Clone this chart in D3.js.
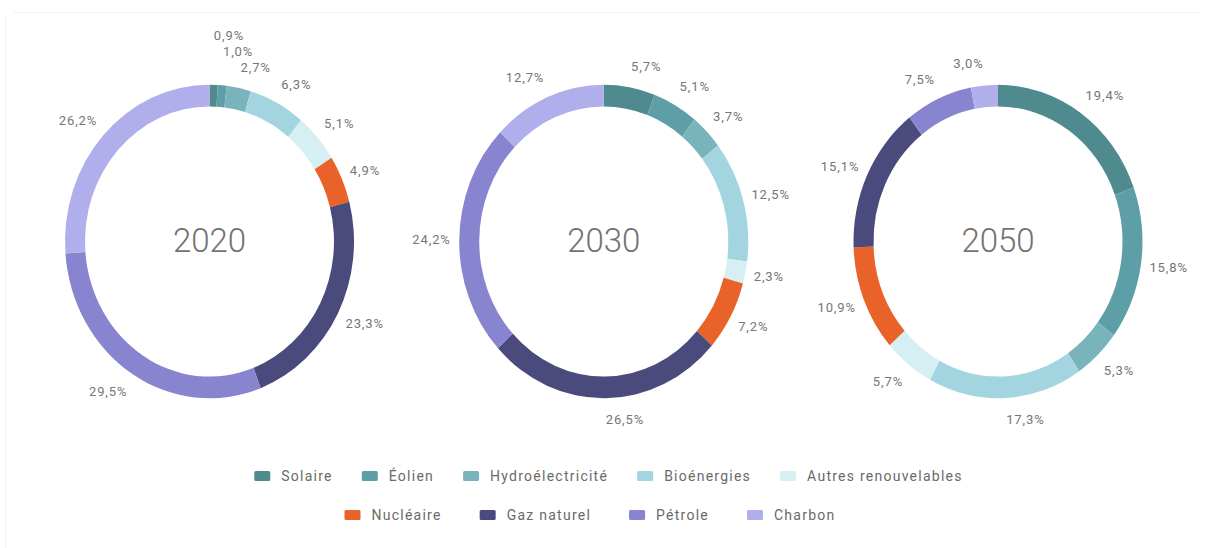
<!DOCTYPE html>
<html lang="fr">
<head>
<meta charset="utf-8">
<script src="https://cdn.jsdelivr.net/npm/d3@7"></script>
<style>
  html, body { margin: 0; padding: 0; background: #fff; }
  svg { display: block; font-family: Roboto, "Noto Sans", sans-serif; }
</style>
</head>
<body>
<svg id="chart" width="1205" height="548"></svg>
<script>
// Sources d'énergie, dans l'ordre des anneaux (sens horaire depuis midi)
const categories = ["Solaire", "Éolien", "Hydroélectricité", "Bioénergies", "Autres renouvelables",
                    "Nucléaire", "Gaz naturel", "Pétrole", "Charbon"];
const palette = ["#4f8a8e", "#5e9ea7", "#79b4bd", "#a2d5df", "#d6eff3",
                 "#e8622a", "#4b4a7c", "#8884cf", "#b1aeec"];

// Part de chaque source (%)
const years = ["2020", "2030", "2050"];
const share2020 = [0.9, 1.0, 2.7, 6.3, 5.1, 4.9, 23.3, 29.5, 26.2];
const share2030 = [5.7, 5.1, 3.7, 12.5, 2.3, 7.2, 26.5, 24.2, 12.7];
const share2050 = [19.4, 15.8, 5.3, 17.3, 5.7, 10.9, 15.1, 7.5, 3.0];
const shares = [share2020, share2030, share2050];

// Lignes de la légende (indices des catégories)
const legendRow1 = [0, 1, 2, 3, 4];
const legendRow2 = [5, 6, 7, 8];

const svg = d3.select("#chart");
const W = 1205, H = 548;

// cadre très léger
svg.append("line").attr("x1", 13).attr("x2", W - 4).attr("y1", 12.5).attr("y2", 12.5)
  .attr("stroke", "#f3f3f3").attr("stroke-width", 1);
svg.append("line").attr("x1", 5.5).attr("x2", 5.5).attr("y1", 15).attr("y2", H)
  .attr("stroke", "#f3f3f3").attr("stroke-width", 1);

const color = d3.scaleOrdinal().domain(categories).range(palette);
const cx = d3.scalePoint().domain(years).range([209.5, 998]);
const cy = 241.5;
const squash = 1.085;          // anneaux légèrement étirés verticalement
const outerR = 144.5, innerR = 124.5;
const labelRx = 153, labelRy = 178;

const fr = d3.formatLocale({ decimal: ",", thousands: " ", grouping: [3], currency: ["", " €"] });
const pct = v => fr.format(".1f")(v) + "%";

const pie = d3.pie().sort(null).value(d => d.value);
const arc = d3.arc().innerRadius(innerR).outerRadius(outerR);

years.forEach((year, yi) => {
  const data = categories.map((c, i) => ({ cat: c, value: shares[yi][i] }));
  const arcs = pie(data);
  const x0 = cx(year);

  const g = svg.append("g").attr("transform", `translate(${x0},${cy})`);
  g.append("g").attr("transform", `scale(1,${squash})`)
    .selectAll("path").data(arcs).join("path")
    .attr("d", arc)
    .attr("fill", d => color(d.data.cat));

  g.append("text")
    .attr("text-anchor", "middle").attr("dominant-baseline", "central")
    .attr("y", -1)
    .attr("font-size", 33).attr("font-weight", 300).attr("fill", "#727272")
    .text(year);

  // étiquettes : position naturelle sur une ellipse, puis décalage vers le haut si chevauchement
  const labels = arcs.map(a => {
    const m = (a.startAngle + a.endAngle) / 2;
    const s = Math.sin(m), c = Math.cos(m);
    return { text: pct(a.data.value), x: labelRx * s, y: -labelRy * c, right: s >= 0 };
  });
  const gap = 16;
  [true, false].forEach(side => {
    const list = labels.filter(l => l.right === side && l.y < 0).sort((a, b) => a.y - b.y);
    for (let i = list.length - 2; i >= 0; i--) {
      list[i].y = Math.min(list[i].y, list[i + 1].y - gap);
    }
  });

  g.selectAll("text.lbl").data(labels).join("text")
    .attr("class", "lbl")
    .attr("x", d => d.x).attr("y", d => d.y)
    .attr("text-anchor", d => d.right ? "start" : "end")
    .attr("dominant-baseline", "central")
    .attr("font-size", 13).attr("letter-spacing", 0.9).attr("fill", "#767676")
    .text(d => d.text);
});

// Légende
function drawLegendRow(indices, yRow, centerX, itemGap) {
  const row = svg.append("g");
  const items = row.selectAll("g").data(indices).join("g");
  items.append("rect")
    .attr("width", 16).attr("height", 10).attr("rx", 1.5)
    .attr("y", -5)
    .attr("fill", i => palette[i]);
  items.append("text")
    .attr("x", 27).attr("dominant-baseline", "central")
    .attr("font-size", 14).attr("letter-spacing", 1.25).attr("fill", "#6a6a6a")
    .text(i => categories[i]);
  const widths = [];
  items.each(function () {
    widths.push(27 + this.querySelector("text").getComputedTextLength());
  });
  const total = d3.sum(widths) + itemGap * (widths.length - 1);
  let x = centerX - total / 2;
  items.attr("transform", (d, i) => {
    const t = `translate(${x},${yRow})`;
    x += widths[i] + itemGap;
    return t;
  });
}
drawLegendRow(legendRow1, 476, 608.5, 29);
drawLegendRow(legendRow2, 515, 590, 38);
</script>
</body>
</html>
